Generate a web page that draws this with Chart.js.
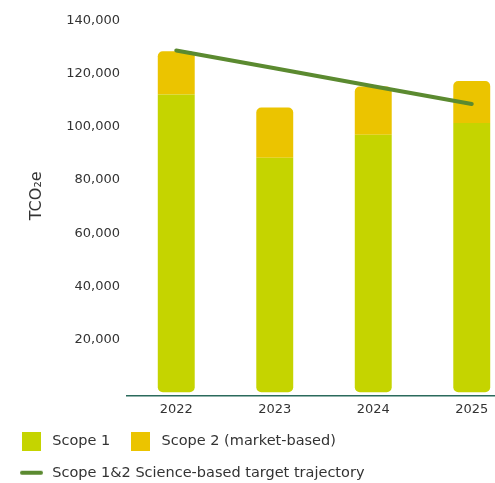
<!DOCTYPE html>
<html>
<head>
<meta charset="utf-8">
<script src="https://cdn.jsdelivr.net/npm/chart.js@4/dist/chart.umd.min.js"></script>
<style>
  html, body { margin: 0; padding: 0; background: #fff; overflow: hidden; }
  #wrap { width: 521px; height: 490px; }
</style>
</head>
<body>
<div id="wrap"><canvas id="emissionsChart" width="521" height="490"></canvas></div>
<script>
// data
const years = ['2022', '2023', '2024', '2025'];
const scope1 = [112300, 88400, 97100, 101500];
const scope2 = [16300, 19000, 18200, 15900];
const sbtTrajectory = [128900, 122200, 115400, 108700];
const yTicks = [20000, 40000, 60000, 80000, 100000, 120000, 140000];

const colScope1 = '#c5d400';
const colScope2 = '#ebc400';
const colLine = '#5b8a30';

// little canvases used as legend icons
function squareIcon(color) {
  const c = document.createElement('canvas');
  c.width = 19; c.height = 19;
  const g = c.getContext('2d');
  g.fillStyle = color;
  g.fillRect(0, 0, 19, 19);
  return c;
}
function lineIcon(color) {
  const c = document.createElement('canvas');
  c.width = 23; c.height = 6;
  const g = c.getContext('2d');
  g.strokeStyle = color;
  g.lineWidth = 4;
  g.lineCap = 'round';
  g.beginPath();
  g.moveTo(2, 3);
  g.lineTo(21, 3);
  g.stroke();
  return c;
}
const legendIcons = [squareIcon(colScope1), squareIcon(colScope2), lineIcon(colLine)];

const ctx = document.getElementById('emissionsChart').getContext('2d');

const chart = new Chart(ctx, {
  type: 'bar',
  data: {
    labels: years,
    datasets: [
      {
        label: 'Scope 1',
        data: scope1,
        backgroundColor: colScope1,
        borderWidth: 0,
        borderSkipped: false,
        borderRadius: { topLeft: 0, topRight: 0, bottomLeft: 5, bottomRight: 5 },
        stack: 'emissions',
        order: 1,
      },
      {
        label: 'Scope 2 (market-based)',
        data: scope2,
        backgroundColor: colScope2,
        borderWidth: 0,
        borderSkipped: false,
        borderRadius: { topLeft: 5, topRight: 5, bottomLeft: 0, bottomRight: 0 },
        stack: 'emissions',
        order: 1,
      },
      {
        label: 'Scope 1&2 Science-based target trajectory',
        type: 'line',
        data: sbtTrajectory,
        borderColor: colLine,
        backgroundColor: colLine,
        borderWidth: 4,
        borderCapStyle: 'round',
        pointRadius: 0,
        fill: false,
        order: 0,
      },
    ],
  },
  options: {
    responsive: false,
    animation: false,
    devicePixelRatio: 1,
    layout: { padding: { top: 21, left: 1, right: 0, bottom: 0 } },
    datasets: {
      bar: { categoryPercentage: 1, barPercentage: 0.375 },
    },
    scales: {
      x: {
        stacked: true,
        grid: { display: false, drawTicks: false },
        border: { display: true, color: '#2b6a5c', width: 1.5 },
        afterFit: (scale) => { scale.height = 21; },
        ticks: {
          padding: 6,
          color: '#333',
          font: { family: 'DejaVu Sans', size: 13 },
        },
      },
      y: {
        stacked: true,
        min: -1400,
        max: 140000,
        grid: { display: false, drawTicks: false },
        border: { display: false },
        afterFit: (scale) => { scale.width = 126; },
        afterBuildTicks: (scale) => {
          scale.ticks = yTicks.map((v) => ({ value: v }));
        },
        ticks: {
          padding: 7,
          color: '#333',
          font: { family: 'DejaVu Sans', size: 13 },
        },
        title: {
          display: true,
          text: '     TCO₂e',
          color: '#333',
          padding: { top: 26, bottom: 0 },
          font: { family: 'DejaVu Sans', size: 16 },
        },
      },
    },
    plugins: {
      legend: {
        position: 'bottom',
        align: 'start',
        labels: {
          usePointStyle: true,
          pointStyleWidth: 27,
          padding: 17,
          color: '#333',
          font: { family: 'DejaVu Sans', size: 14.5 },
          generateLabels: (c) => {
            const items = Chart.defaults.plugins.legend.labels.generateLabels(c);
            items.sort((a, b) => a.datasetIndex - b.datasetIndex);
            items.forEach((it) => { it.pointStyle = legendIcons[it.datasetIndex]; });
            return items;
          },
        },
      },
      tooltip: { enabled: false },
    },
  },
});
</script>
</body>
</html>
